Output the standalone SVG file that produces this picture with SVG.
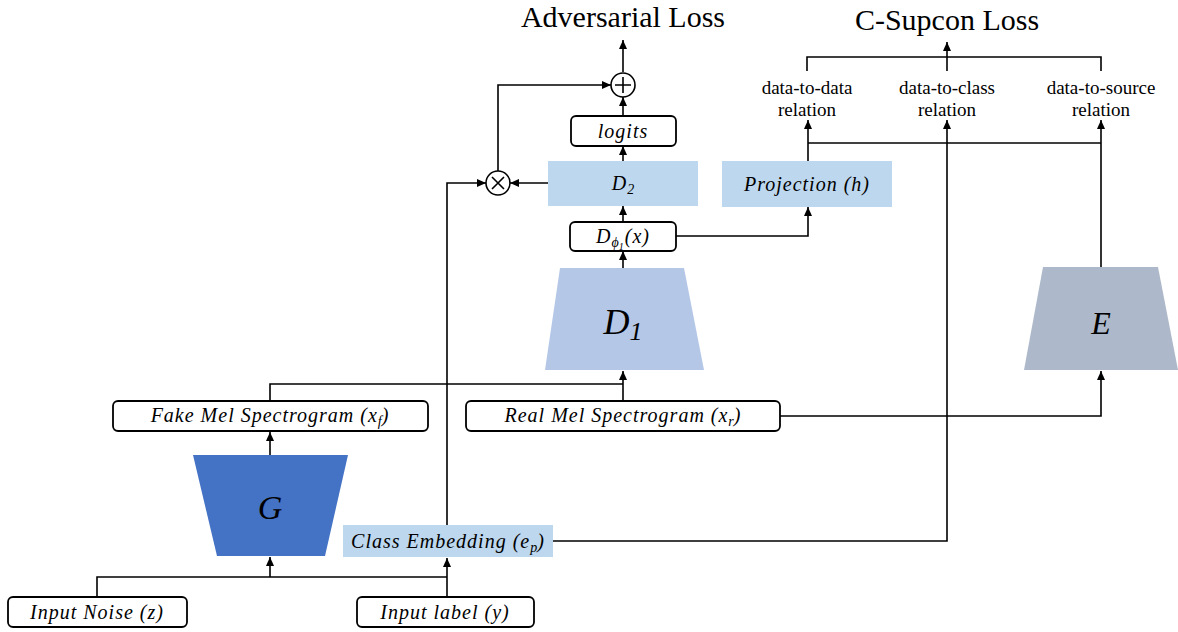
<svg xmlns="http://www.w3.org/2000/svg" width="1178" height="632" viewBox="0 0 1178 632">
<defs>
<marker id="ar" markerUnits="userSpaceOnUse" markerWidth="10" markerHeight="10" viewBox="0 0 10 10" refX="9" refY="5" orient="auto">
<path d="M0,1 L9,5 L0,9 Z" fill="#000"/>
</marker>
</defs>
<style>
.box{fill:#fff;stroke:#000;stroke-width:1.8}
.blue{fill:#BDD7EE}
.c{fill:none;stroke:#000;stroke-width:1.6}
.a{marker-end:url(#ar)}
.m{font-family:"Liberation Serif",serif;font-style:italic;font-size:20px;letter-spacing:1px;fill:#000;text-anchor:middle}
.t{font-family:"Liberation Serif",serif;font-size:30px;fill:#000;text-anchor:middle}
.r{font-family:"Liberation Serif",serif;font-size:19px;fill:#000;text-anchor:middle}
.sub{font-size:14px;letter-spacing:0}
</style>
<rect width="1178" height="632" fill="#fff"/>
<g id="connectors">
<path class="c a" d="M623,72 V40"/>
<path class="c a" d="M623,116 V97"/>
<path class="c a" d="M623,161 V146"/>
<path class="c a" d="M548,183 H510"/>
<path class="c a" d="M498,171 V85 H611"/>
<path class="c a" d="M447,525 V183 H486"/>
<path class="c a" d="M623,222 V206"/>
<path class="c a" d="M623,268 V251"/>
<path class="c a" d="M676,236 H808 V207"/>
<path class="c a" d="M808,161 V120"/>
<path class="c" d="M808,143 H1101"/>
<path class="c a" d="M1101,267 V120"/>
<path class="c a" d="M553,541 H947 V120"/>
<path class="c" d="M807,71 V57 H1101 V71"/>
<path class="c a" d="M947,71 V42"/>
<path class="c" d="M97,597 V577 H447"/>
<path class="c a" d="M270,577 V557"/>
<path class="c a" d="M447,597 V558"/>
<path class="c a" d="M270,455 V432"/>
<path class="c" d="M270,401 V384 H623"/>
<path class="c a" d="M623,401 V371"/>
<path class="c a" d="M780,416 H1101 V371"/>
</g>
<g id="title-adv"><text class="t" x="623" y="27">Adversarial Loss</text></g>
<g id="title-csup"><text class="t" x="947" y="30">C-Supcon Loss</text></g>
<g id="rel-dd"><text class="r" x="807" y="94">data-to-data</text><text class="r" x="807" y="116">relation</text></g>
<g id="rel-dc"><text class="r" x="947" y="94">data-to-class</text><text class="r" x="947" y="116">relation</text></g>
<g id="rel-ds"><text class="r" x="1101" y="94">data-to-source</text><text class="r" x="1101" y="116">relation</text></g>
<g id="plus"><circle cx="623" cy="85" r="12" fill="#fff" stroke="#000" stroke-width="1.6"/><path d="M615,85 H631 M623,77 V93" stroke="#000" stroke-width="1.6"/></g>
<g id="times"><circle cx="498" cy="183" r="12" fill="#fff" stroke="#000" stroke-width="1.6"/><path d="M492,177 L504,189 M504,177 L492,189" stroke="#000" stroke-width="1.6"/></g>
<g id="logits"><rect class="box" x="571" y="116" width="105" height="30" rx="5"/><text class="m" x="623" y="138">logits</text></g>
<g id="d2"><rect class="blue" x="548" y="161" width="150" height="45"/><text class="m" x="623" y="190">D<tspan class="sub" dy="4">2</tspan></text></g>
<g id="dphi"><rect class="box" x="570" y="222" width="106" height="29" rx="5"/><text class="m" x="623" y="243">D<tspan class="sub" dy="4">ϕ</tspan><tspan style="font-size:10px" dy="3">1</tspan><tspan dy="-7">(x)</tspan></text></g>
<g id="projection"><rect class="blue" x="722" y="161" width="170" height="46"/><text class="m" x="807" y="191">Projection (h)</text></g>
<g id="d1"><polygon points="560,268 684,268 704,370 545,370" fill="#B4C7E7"/><text class="m" x="623" y="334" style="font-size:36px;letter-spacing:0">D<tspan style="font-size:26px" dy="6">1</tspan></text></g>
<g id="e"><polygon points="1043,267 1158,267 1178,370 1024,370" fill="#ADB9CA"/><text class="m" x="1101" y="334" style="font-size:32px;letter-spacing:0">E</text></g>
<g id="fake"><rect class="box" x="113" y="401" width="315" height="30" rx="5"/><text class="m" x="270" y="422">Fake Mel Spectrogram (x<tspan class="sub" dy="4">f</tspan><tspan dy="-4">)</tspan></text></g>
<g id="real"><rect class="box" x="466" y="401" width="314" height="30" rx="5"/><text class="m" x="623" y="422">Real Mel Spectrogram (x<tspan class="sub" dy="4">r</tspan><tspan dy="-4">)</tspan></text></g>
<g id="g"><polygon points="193,455 348,455 325,556 217,556" fill="#4472C4"/><text class="m" x="270" y="519" style="font-size:34px;letter-spacing:0">G</text></g>
<g id="classemb"><rect class="blue" x="343" y="525" width="210" height="32"/><text class="m" x="448" y="548">Class Embedding (e<tspan class="sub" dy="4">p</tspan><tspan dy="-4">)</tspan></text></g>
<g id="noise"><rect class="box" x="8" y="597" width="179" height="30" rx="5"/><text class="m" x="97" y="619">Input Noise (z)</text></g>
<g id="label"><rect class="box" x="357" y="597" width="177" height="30" rx="5"/><text class="m" x="445" y="619">Input label (y)</text></g>
</svg>
